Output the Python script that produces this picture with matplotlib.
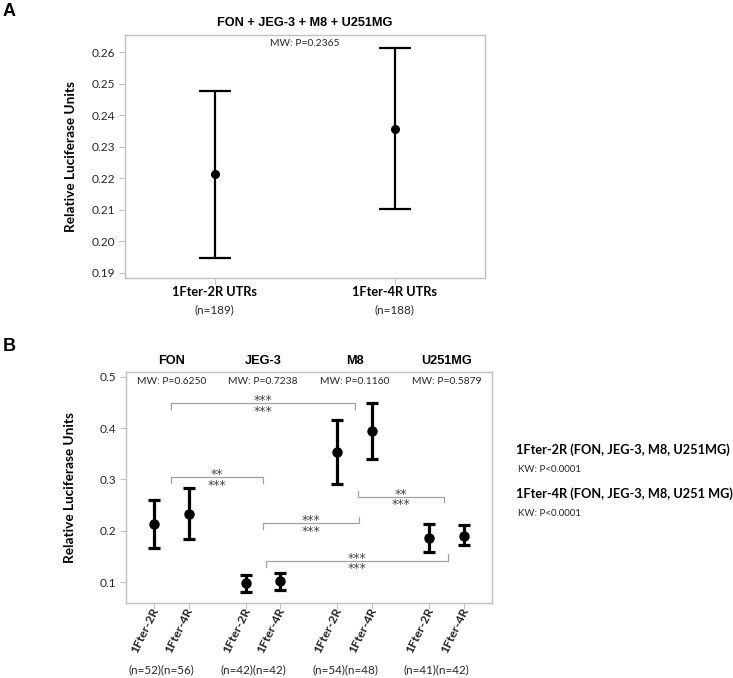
import numpy as np
import matplotlib
matplotlib.use("Agg")
import matplotlib.pyplot as plt

plt.rcParams['font.family'] = ['Lato', 'DejaVu Sans']

# ---- panel A data
groups_a = ['1Fter-2R UTRs', '1Fter-4R UTRs']
n_a = [189, 188]
mean_a = [0.2215, 0.2357]
lo_a = [0.1949, 0.2102]
hi_a = [0.2478, 0.2613]
mw_a = '0.2365'

# ---- panel B data
cells = ['FON', 'JEG-3', 'M8', 'U251MG']
mw_b = ['0.6250', '0.7238', '0.1160', '0.5879']
mean_2r = [0.213, 0.0986, 0.353, 0.186]
lo_2r = [0.166, 0.082, 0.2906, 0.1595]
hi_2r = [0.260, 0.1136, 0.4163, 0.214]
mean_4r = [0.233, 0.102, 0.394, 0.191]
lo_4r = [0.184, 0.085, 0.340, 0.1725]
hi_4r = [0.284, 0.118, 0.449, 0.211]
n_2r = [52, 42, 54, 41]
n_4r = [56, 42, 48, 42]
tick_b = ['1Fter-2R', '1Fter-4R']

# brackets: x left, x right, y, y at left end, y at right end, upper stars, lower stars
brackets = [
    (0.5, 5.8, 0.448, 0.4366, 0.4366, '***', '***'),
    (0.5, 3.15, 0.304, 0.2926, 0.2926, '**', '***'),
    (3.15, 5.93, 0.2147, 0.2037, 0.2265, '***', '***'),
    (5.88, 8.39, 0.2665, 0.2776, 0.2568, '**', '***'),
    (3.23, 8.48, 0.1414, 0.1304, 0.155, '***', '***'),
]

kw_text = [('1Fter-2R (FON, JEG-3, M8, U251MG)', 'KW: P<0.0001'),
           ('1Fter-4R (FON, JEG-3, M8, U251 MG)', 'KW: P<0.0001')]

spine_col = '#c0c0c0'
txt_col = '#262626'

fig = plt.figure(figsize=(7.33, 6.78), dpi=100)


def style_axes(ax):
    for s in ax.spines.values():
        s.set_color(spine_col)
        s.set_linewidth(1.0)
    ax.tick_params(axis='both', colors=spine_col, labelcolor=txt_col,
                   length=4, width=0.8, labelsize=8.6, pad=2.5)


# ================= panel A
axa = fig.add_axes([0.1699, 0.5904, 0.4918, 0.358])
xa = np.arange(len(groups_a))
ma = np.array(mean_a)
axa.errorbar(xa, ma, yerr=[ma - np.array(lo_a), np.array(hi_a) - ma],
             fmt='o', color='black', ms=5.5, lw=1.6, capsize=11.6, capthick=1.6)
axa.set_xlim(-0.5, 1.5)
axa.set_ylim(0.1885, 0.2655)
axa.set_yticks([0.19, 0.20, 0.21, 0.22, 0.23, 0.24, 0.25, 0.26])
axa.set_yticklabels(['%.2f' % v for v in axa.get_yticks()])
axa.set_xticks(xa)
axa.set_xticklabels([])
style_axes(axa)
axa.text(-0.148, 0.5, 'Relative Luciferase Units', transform=axa.transAxes,
         rotation=90, ha='center', va='center', fontsize=9.8, fontweight='bold')
axa.annotate('FON + JEG-3 + M8 + U251MG', (0.5, 1), xycoords='axes fraction',
             xytext=(0, 8.4), textcoords='offset points', ha='center',
             va='center', fontsize=9.2, fontweight='bold',
             family='Liberation Sans')
axa.annotate('MW: P=' + mw_a, (0.5, 1), xycoords='axes fraction',
             xytext=(0, -6.3), textcoords='offset points', ha='center',
             va='center', fontsize=7.4, color=txt_col)
for x, g, n in zip(xa, groups_a, n_a):
    axa.annotate(g, (x, 0), xycoords=('data', 'axes fraction'),
                 xytext=(0, -10), textcoords='offset points', ha='center',
                 va='center', fontsize=9.2, fontweight='bold')
    axa.annotate('(n=%d)' % n, (x, 0), xycoords=('data', 'axes fraction'),
                 xytext=(0, -23.3), textcoords='offset points', ha='center',
                 va='center', fontsize=8.4, color=txt_col)

fig.text(0.004, 1 - 3 / 678, 'A', fontsize=13, fontweight='bold',
         family='Liberation Sans', va='top')

# ================= panel B
axb = fig.add_axes([0.1715, 0.1102, 0.5001, 0.3407])
centers = np.arange(len(cells)) * 2.65 + 0.5
x2 = centers - 0.5
x4 = centers + 0.5
for xs, m, lo, hi in [(x2, mean_2r, lo_2r, hi_2r), (x4, mean_4r, lo_4r, hi_4r)]:
    m = np.array(m)
    axb.errorbar(xs, m, yerr=[m - np.array(lo), np.array(hi) - m], fmt='o',
                 color='black', ms=6.5, lw=2.3, capsize=4.6, capthick=2.3)
axb.set_xlim(-0.815, 9.77)
axb.set_ylim(0.0591, 0.5086)
axb.set_yticks([0.1, 0.2, 0.3, 0.4, 0.5])
allx = np.sort(np.concatenate([x2, x4]))
axb.set_xticks(allx)
axb.set_xticklabels([])
style_axes(axb)
axb.text(-0.152, 0.5, 'Relative Luciferase Units', transform=axb.transAxes,
         rotation=90, ha='center', va='center', fontsize=9.8, fontweight='bold')

for c, name, p in zip(centers, cells, mw_b):
    axb.annotate(name, (c, 1), xycoords=('data', 'axes fraction'),
                 xytext=(0, 8.3), textcoords='offset points', ha='center',
                 va='center', fontsize=9.2, fontweight='bold',
                 family='Liberation Sans')
    axb.annotate('MW: P=' + p, (c, 1), xycoords=('data', 'axes fraction'),
                 xytext=(0, -6.8), textcoords='offset points', ha='center',
                 va='center', fontsize=7.4, color=txt_col)

for xs, lab in [(x2, tick_b[0]), (x4, tick_b[1])]:
    for x in xs:
        axb.annotate(lab, (x, 0), xycoords=('data', 'axes fraction'),
                     xytext=(-2.5, -1.5), textcoords='offset points',
                     ha='right', va='top', rotation=64,
                     rotation_mode='anchor', fontsize=8.8, fontweight='bold',
                     color=txt_col)

for c, a, b in zip(centers, n_2r, n_4r):
    axb.annotate('(n=%d)(n=%d)' % (a, b), (c, 0),
                 xycoords=('data', 'axes fraction'), xytext=(-7, -48),
                 textcoords='offset points', ha='center', va='center',
                 fontsize=8.4, color=txt_col)

for xl, xr, y, yl, yr, top, bot in brackets:
    axb.plot([xl, xl, xr, xr], [yl, y, y, yr], color='#a0a0a0', lw=0.9)
    xm = (xl + xr) / 2
    # two rows of stars, one above and one below the bracket line
    axb.annotate(top + '\n' + bot, (xm, y), xytext=(0, -8.1),
                 textcoords='offset points', ha='center', va='baseline',
                 multialignment='center', linespacing=0.72, fontsize=9,
                 color='#444444', family='DejaVu Sans')

fig.text(0.004, 1 - 338 / 678, 'B', fontsize=13, fontweight='bold',
         family='Liberation Sans', va='top')

head_y = [450, 494]
kw_y = [469, 513]
for (head, kw), hy, ky in zip(kw_text, head_y, kw_y):
    fig.text(516 / 733, 1 - hy / 678, head, fontsize=9.2, fontweight='bold',
             va='center')
    fig.text(518 / 733, 1 - ky / 678, kw, fontsize=7, color=txt_col,
             va='center')

fig.savefig('out.png', dpi=100)
